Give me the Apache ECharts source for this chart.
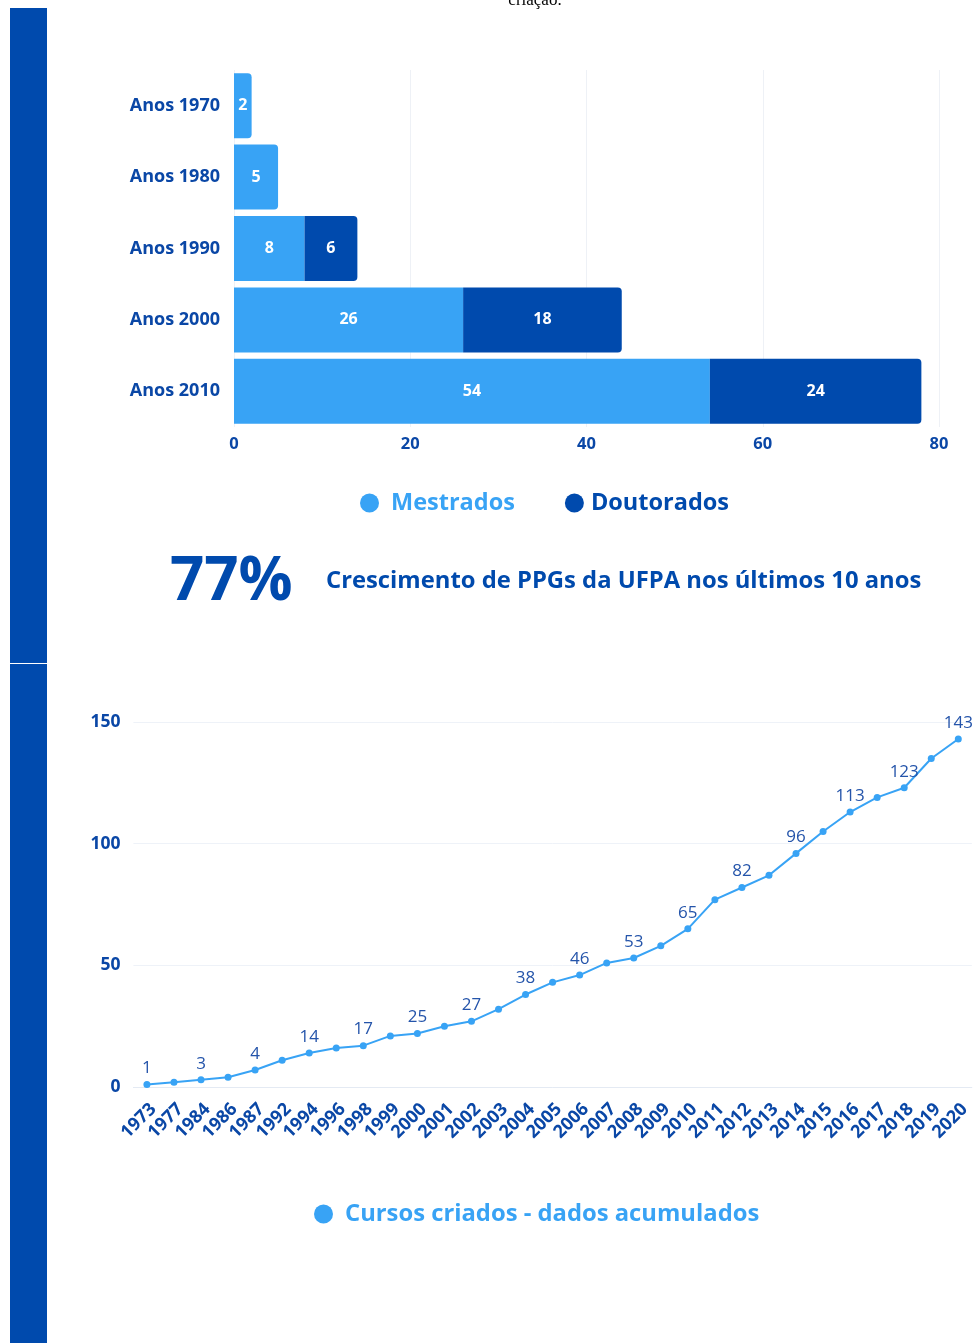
<!DOCTYPE html>
<html>
<head>
<meta charset="utf-8">
<script src="https://cdn.jsdelivr.net/npm/echarts@6/dist/echarts.min.js"></script>
<style>
html,body{margin:0;padding:0;background:#fff;}
#c{width:973px;height:1343px;}
</style>
</head>
<body>
<div id="c"></div>
<script>
// ---- data ----
var decadeCategories = ['Anos 1970', 'Anos 1980', 'Anos 1990', 'Anos 2000', 'Anos 2010'];
var mestrados = [2, 5, 8, 26, 54];
var doutorados = [null, null, 6, 18, 24];
var barTicks = [0, 20, 40, 60, 80];

var years = ['1973','1977','1984','1986','1987','1992','1994','1996','1998','1999','2000','2001','2002','2003','2004','2005','2006','2007','2008','2009','2010','2011','2012','2013','2014','2015','2016','2017','2018','2019','2020'];
var cursosAcumulados = [1,2,3,4,7,11,14,16,17,21,22,25,27,32,38,43,46,51,53,58,65,77,82,87,96,105,113,119,123,135,143];
var pointLabels = [1,null,3,null,4,null,14,null,17,null,25,null,27,null,38,null,46,null,53,null,65,null,82,null,96,null,113,null,123,null,143];
var lineTicks = [0, 50, 100, 150];

var growthValue = '77%';
var growthText = 'Crescimento de PPGs da UFPA nos últimos 10 anos';

// ---- style ----
var DARK = '#004AAD';
var LIGHT = '#38A3F5';
var TXT = '#0A47A6';
var FONT = '"Open Sans", "Noto Sans", sans-serif';

var chart = echarts.init(document.getElementById('c'), null, {renderer: 'canvas'});

var mestradosData = mestrados.map(function (v, i) {
  var last = doutorados[i] == null;
  return {value: v, itemStyle: {borderRadius: last ? [0, 4, 4, 0] : 0}};
});

var option = {
  backgroundColor: '#fff',
  animation: false,
  textStyle: {fontFamily: FONT},
  graphic: [
    {type: 'rect', left: 10, top: 8, shape: {width: 37, height: 655}, style: {fill: DARK}},
    {type: 'rect', left: 10, top: 664, shape: {width: 37, height: 679}, style: {fill: DARK}},
    {type: 'text', x: 535, y: 9, style: {text: 'criação.', font: '17px "Liberation Serif", serif', fill: '#000', textAlign: 'center', textVerticalAlign: 'bottom'}},
    {type: 'text', x: 170, y: 583, style: {text: growthValue, font: 'bold 60px ' + FONT, fill: DARK, textAlign: 'left', textVerticalAlign: 'middle'}},
    {type: 'text', x: 326, y: 581, style: {text: growthText, font: 'bold 23.8px ' + FONT, fill: DARK, textAlign: 'left', textVerticalAlign: 'middle'}}
  ],
  legend: [
    {
      top: 486, left: 355,
      icon: 'circle', itemWidth: 19, itemHeight: 19, itemGap: 50,
      textStyle: {fontSize: 23.5, fontWeight: 'bold', fontFamily: FONT},
      data: [
        {name: 'Mestrados', textStyle: {color: LIGHT, padding: [0, 0, 0, 7]}},
        {name: 'Doutorados', textStyle: {color: DARK, padding: [0, 0, 0, 2]}}
      ]
    },
    {
      top: 1197, left: 309,
      icon: 'circle', itemWidth: 19, itemHeight: 19,
      textStyle: {fontSize: 23.8, fontWeight: 'bold', fontFamily: FONT, color: LIGHT, padding: [0, 0, 0, 7]},
      data: ['Cursos criados - dados acumulados']
    }
  ],
  grid: [
    {left: 234, top: 70, width: 705, height: 357, containLabel: false},
    {left: 133.4, top: 722, right: -8, height: 365, containLabel: false}
  ],
  xAxis: [
    {
      gridIndex: 0, type: 'value', min: barTicks[0], max: barTicks[barTicks.length - 1], interval: 20,
      axisLine: {show: false}, axisTick: {show: false},
      splitLine: {lineStyle: {color: '#EEF1F6', width: 1}},
      axisLabel: {color: TXT, fontSize: 16.5, fontWeight: 'bold', margin: 9, fontFamily: FONT}
    },
    {
      gridIndex: 1, type: 'category', data: years, boundaryGap: true,
      axisLine: {show: true, lineStyle: {color: '#E4EAF3'}}, axisTick: {show: false},
      axisLabel: {color: TXT, fontSize: 18, fontWeight: 'bold', rotate: 45, interval: 0, margin: 13, align: 'right', verticalAlign: 'top', fontFamily: FONT}
    }
  ],
  yAxis: [
    {
      gridIndex: 0, type: 'category', data: decadeCategories, inverse: true,
      axisLine: {show: false}, axisTick: {show: false},
      axisLabel: {color: TXT, fontSize: 18, fontWeight: 'bold', margin: 14, fontFamily: FONT}
    },
    {
      gridIndex: 1, type: 'value', min: lineTicks[0], max: lineTicks[lineTicks.length - 1], interval: 50,
      axisLine: {show: false}, axisTick: {show: false},
      splitLine: {lineStyle: {color: '#EEF2F8'}},
      axisLabel: {color: TXT, fontSize: 17.5, fontWeight: 'bold', margin: 13, fontFamily: FONT}
    }
  ],
  series: [
    {
      name: 'Mestrados', type: 'bar', stack: 'ppg', xAxisIndex: 0, yAxisIndex: 0,
      barCategoryGap: '9%',
      itemStyle: {color: LIGHT},
      label: {show: true, position: 'inside', color: '#fff', fontWeight: 'bold', fontSize: 16, fontFamily: FONT},
      data: mestradosData
    },
    {
      name: 'Doutorados', type: 'bar', stack: 'ppg', xAxisIndex: 0, yAxisIndex: 0,
      barCategoryGap: '9%',
      itemStyle: {color: DARK, borderRadius: [0, 4, 4, 0]},
      label: {show: true, position: 'inside', color: '#fff', fontWeight: 'bold', fontSize: 16, fontFamily: FONT},
      data: doutorados
    },
    {
      name: 'Cursos criados - dados acumulados', type: 'line', xAxisIndex: 1, yAxisIndex: 1,
      data: cursosAcumulados,
      symbol: 'circle', symbolSize: 7,
      lineStyle: {color: LIGHT, width: 2},
      itemStyle: {color: LIGHT},
      label: {
        show: true, position: 'top', distance: 4, color: '#2454AA', fontSize: 17, fontFamily: FONT,
        formatter: function (p) { var l = pointLabels[p.dataIndex]; return l == null ? '' : String(l); }
      }
    }
  ]
};
chart.setOption(option);
</script>
</body>
</html>
